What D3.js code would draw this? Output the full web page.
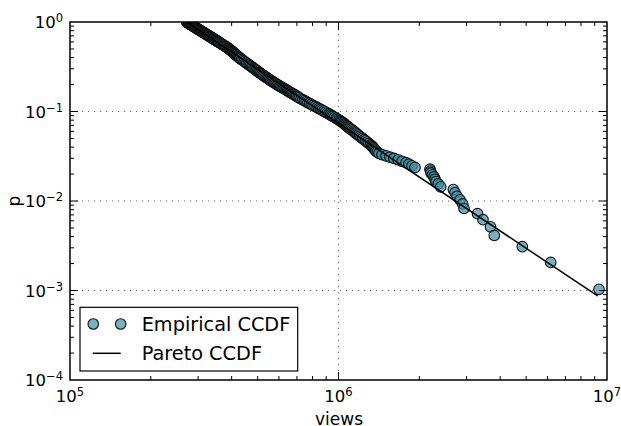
<!DOCTYPE html>
<html>
<head>
<meta charset="utf-8">
<script src="https://cdn.jsdelivr.net/npm/d3@7"></script>
<style>
  html, body { margin: 0; padding: 0; background: #fff; }
  svg { display: block; }
  text { font-family: "DejaVu Sans", sans-serif; fill: #000; }
</style>
</head>
<body>
<svg id="chart" width="621" height="426"></svg>
<script>
// ---- data ----
const empViews = [
  272000, 273400, 274900, 276300, 277800, 279200, 280700, 282100, 283600, 285000,
  286500, 287900, 289400, 290800, 292300, 293700, 295200, 296600, 298100, 299500,
  301000, 302500, 303900, 305400, 306800, 308300, 309800, 311200, 312700, 314100,
  315600, 317100, 318500, 320000, 321500, 323000, 324400, 325900, 327400, 328800,
  330300, 331800, 333300, 334700, 336200, 337700, 339200, 340700, 342100, 343600,
  345100, 346500, 348000, 349400, 350900, 352300, 353700, 355200, 356600, 358000,
  359500, 362400, 365300, 368200, 371000, 373900, 376800, 379700, 382600, 385500,
  388400, 390600, 392800, 395000, 397200, 399300, 401500, 403600, 405800, 407900,
  410000, 412200, 414300, 416400, 418500, 420500, 422600, 424700, 426800, 428800,
  430800, 435800, 440700, 445700, 450600, 455500, 460400, 465200, 470100, 475000,
  479800, 484600, 489500, 494300, 499100, 503900, 508700, 513400, 518200, 523000,
  527700, 533000, 538200, 543500, 548800, 554100, 559300, 564600, 569900, 575200,
  580400, 586300, 592200, 598100, 604000, 610000, 615900, 621800, 627800, 633800,
  639700, 645700, 651700, 657700, 663800, 669800, 675800, 681900, 688000, 694000,
  700100, 707000, 714600, 725000, 736600, 747000, 757300, 768000, 779500, 791000,
  803200, 818000, 832700, 845000, 856300, 869000, 881600, 895000, 908600, 921000,
  932700, 943000, 953600, 967000, 980700, 993000, 1005000, 1015000, 1024000, 1034000,
  1045000, 1053000, 1062000, 1071000, 1080000, 1090000, 1099000, 1112000, 1125000, 1137000,
  1148000, 1160000, 1172000, 1185000, 1199000, 1214000, 1229000, 1245000, 1261000, 1279000,
  1297000, 1315000, 1330000, 1340000, 1350000, 1360000, 1370000, 1380000, 1395000, 1415000,
  1452000, 1503000, 1555000, 1609000, 1666000, 1724000, 1784000, 1830000, 1878000, 1927000,
  2191000, 2201000, 2210000, 2239000, 2268000, 2288000, 2307000, 2353000, 2402000, 2677000,
  2716000, 2763000, 2835000, 2901000, 2934000, 3294000, 3453000, 3683000, 3804000, 4837000,
  6171000, 9337000
];
const empP = [
  1.000, 0.990, 0.980, 0.971, 0.961, 0.952, 0.943, 0.934, 0.925, 0.916,
  0.907, 0.898, 0.890, 0.882, 0.873, 0.865, 0.857, 0.849, 0.842, 0.834,
  0.826, 0.819, 0.812, 0.804, 0.797, 0.790, 0.783, 0.776, 0.769, 0.763,
  0.756, 0.750, 0.743, 0.737, 0.731, 0.724, 0.718, 0.712, 0.706, 0.700,
  0.694, 0.689, 0.683, 0.677, 0.672, 0.666, 0.661, 0.656, 0.650, 0.645,
  0.640, 0.635, 0.630, 0.625, 0.620, 0.615, 0.610, 0.606, 0.601, 0.596,
  0.592, 0.583, 0.574, 0.565, 0.557, 0.549, 0.541, 0.533, 0.525, 0.518,
  0.510, 0.503, 0.496, 0.489, 0.482, 0.476, 0.469, 0.463, 0.457, 0.450,
  0.444, 0.439, 0.433, 0.427, 0.422, 0.416, 0.411, 0.406, 0.401, 0.396,
  0.391, 0.381, 0.372, 0.363, 0.354, 0.346, 0.338, 0.330, 0.323, 0.316,
  0.309, 0.302, 0.295, 0.289, 0.283, 0.277, 0.271, 0.266, 0.260, 0.255,
  0.250, 0.245, 0.240, 0.236, 0.231, 0.227, 0.222, 0.218, 0.214, 0.210,
  0.207, 0.203, 0.199, 0.196, 0.192, 0.189, 0.186, 0.183, 0.180, 0.177,
  0.174, 0.171, 0.168, 0.165, 0.163, 0.160, 0.157, 0.155, 0.153, 0.150,
  0.148, 0.145, 0.142, 0.138, 0.135, 0.132, 0.129, 0.126, 0.123, 0.120,
  0.117, 0.114, 0.111, 0.108, 0.106, 0.1035, 0.101, 0.0985, 0.096, 0.094,
  0.092, 0.090, 0.088, 0.086, 0.084, 0.082, 0.080, 0.0785, 0.077, 0.0755,
  0.074, 0.0725, 0.071, 0.0695, 0.068, 0.0665, 0.065, 0.0635, 0.062, 0.0605,
  0.059, 0.0575, 0.056, 0.0545, 0.053, 0.0515, 0.050, 0.0485, 0.047, 0.0455,
  0.044, 0.0423, 0.0412, 0.0402, 0.0392, 0.0381, 0.0371, 0.0361, 0.0351, 0.0340,
  0.0330, 0.0320, 0.0309, 0.0299, 0.0289, 0.0278, 0.0268, 0.0258, 0.0247, 0.0237,
  0.0227, 0.0216, 0.0206, 0.0196, 0.0186, 0.0175, 0.0165, 0.0155, 0.0144, 0.0134,
  0.0124, 0.0113, 0.0103, 0.00928, 0.00825, 0.00722, 0.00619, 0.00515, 0.00412, 0.00309,
  0.00206, 0.00103
];
const paretoViews = [272000, 9230000];
const paretoP = [1, 0.000869];

const xTickExps = [5, 6, 7];
const yTickExps = [0, -1, -2, -3, -4];
const seriesNames = ["Empirical CCDF", "Pareto CCDF"];
const xLabel = "views";
const yLabel = "p";

// ---- layout ----
const L = 70, R = 607, T = 22, B = 380;
const svg = d3.select("#chart");
const x = d3.scaleLog().domain([1e5, 1e7]).range([L, R]);
const y = d3.scaleLog().domain([1e-4, 1]).range([B, T]);

svg.append("defs").append("clipPath").attr("id", "clip")
  .append("rect").attr("x", L).attr("y", T).attr("width", R - L).attr("height", B - T);

const isMajor = v => Math.abs(Math.log10(v) - Math.round(Math.log10(v))) < 1e-9;

// grid at inner major ticks
const g = svg.append("g");
x.ticks().filter(isMajor).filter(v => v > 1e5 && v < 1e7).forEach(v => {
  g.append("line").attr("x1", x(v)).attr("x2", x(v)).attr("y1", T).attr("y2", B)
    .attr("stroke", "#666").attr("stroke-width", 1).attr("stroke-dasharray", "1.2,4.8");
});
y.ticks().filter(isMajor).filter(v => v > 1e-4 && v < 1).forEach(v => {
  g.append("line").attr("y1", y(v)).attr("y2", y(v)).attr("x1", L).attr("x2", R)
    .attr("stroke", "#666").attr("stroke-width", 1).attr("stroke-dasharray", "1.2,4.8");
});

// points
const markerStyle = sel => sel
  .attr("fill", "#3f8fa6").attr("fill-opacity", 0.7)
  .attr("stroke", "#111").attr("stroke-opacity", 1).attr("stroke-width", 1.1);
const pts = empViews.map((v, i) => ({ v, p: empP[i] }));
const plot = svg.append("g").attr("clip-path", "url(#clip)");
plot.selectAll("circle.pt").data(pts).enter().append("circle")
  .attr("class", "pt")
  .attr("cx", d => x(d.v)).attr("cy", d => y(d.p)).attr("r", 5.3)
  .call(markerStyle);

// Pareto line
const lineData = paretoViews.map((v, i) => ({ v, p: paretoP[i] }));
plot.append("path").datum(lineData)
  .attr("d", d3.line().x(d => x(d.v)).y(d => y(d.p)))
  .attr("fill", "none").attr("stroke", "#000").attr("stroke-width", 1.5);

// ticks on all four sides, inward
const tk = svg.append("g").attr("stroke", "#000").attr("stroke-width", 1);
x.ticks().forEach(v => {
  if (v <= 1e5 || v >= 1e7) return;
  const len = isMajor(v) ? 8 : 4;
  tk.append("line").attr("x1", x(v)).attr("x2", x(v)).attr("y1", B).attr("y2", B - len);
  tk.append("line").attr("x1", x(v)).attr("x2", x(v)).attr("y1", T).attr("y2", T + len);
});
y.ticks().forEach(v => {
  if (v <= 1e-4 || v >= 1) return;
  const len = isMajor(v) ? 8 : 4;
  tk.append("line").attr("y1", y(v)).attr("y2", y(v)).attr("x1", L).attr("x2", L + len);
  tk.append("line").attr("y1", y(v)).attr("y2", y(v)).attr("x1", R).attr("x2", R - len);
});

// frame
svg.append("rect").attr("x", L).attr("y", T).attr("width", R - L).attr("height", B - T)
  .attr("fill", "none").attr("stroke", "#000").attr("stroke-width", 1.5);

// tick labels
const fmtExp = e => (e < 0 ? "\u2212" + (-e) : String(e));
xTickExps.forEach(e => {
  const t = svg.append("text").attr("x", x(Math.pow(10, e))).attr("y", 401.7)
    .attr("text-anchor", "middle").style("font-size", "16.5px");
  t.append("tspan").text("10");
  t.append("tspan").attr("dy", -6).style("font-size", "11.5px").text(fmtExp(e));
});
yTickExps.forEach(e => {
  const t = svg.append("text").attr("x", 63).attr("y", y(Math.pow(10, e)) + 6.2)
    .attr("text-anchor", "end").style("font-size", "16.5px");
  t.append("tspan").text("10");
  t.append("tspan").attr("dy", -6).style("font-size", "11.5px").text(fmtExp(e));
});

// axis labels
svg.append("text").attr("x", (L + R) / 2 + 0.5).attr("y", 424.5).attr("text-anchor", "middle")
  .style("font-size", "17px").text(xLabel);
svg.append("text").attr("transform", `translate(20,${(T + B) / 2}) rotate(-90)`)
  .attr("text-anchor", "middle").style("font-size", "17px").text(yLabel);

// legend
const lg = svg.append("g");
lg.append("rect").attr("x", 80).attr("y", 307.3).attr("width", 217.7).attr("height", 63.7)
  .attr("fill", "#fff").attr("stroke", "#000").attr("stroke-width", 1.2);
[93.3, 120.7].forEach(cx => {
  lg.append("circle").attr("cx", cx).attr("cy", 324).attr("r", 5.3).call(markerStyle);
});
lg.append("line").attr("x1", 92.7).attr("x2", 120.7).attr("y1", 353.3).attr("y2", 353.3)
  .attr("stroke", "#000").attr("stroke-width", 1.5);
lg.append("text").attr("x", 141.7).attr("y", 330.5).style("font-size", "19.3px").text(seriesNames[0]);
lg.append("text").attr("x", 141.7).attr("y", 359.8).style("font-size", "19.3px").text(seriesNames[1]);
</script>
</body>
</html>
